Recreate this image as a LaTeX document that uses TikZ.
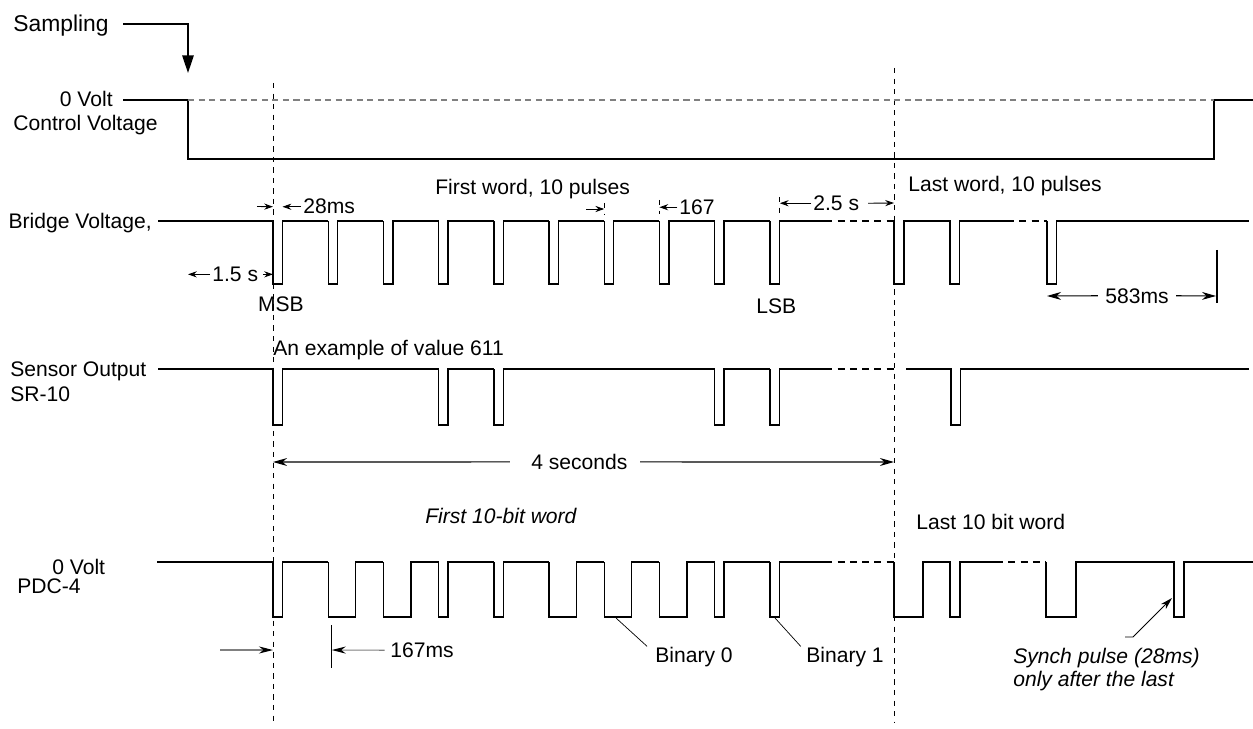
\documentclass[tikz,border=0pt]{standalone}
\usepackage{fontspec}
\setmainfont{Liberation Sans}
\usetikzlibrary{arrows.meta}

\tikzset{
  wave/.style={line width=0.8pt, line join=miter},
  dashwave/.style={line width=0.8pt, dash pattern=on 4pt off 3pt},
  guide/.style={line width=0.5pt, dash pattern=on 3pt off 3pt},
  dim/.style={line width=0.5pt, -{Stealth[length=5pt,width=3.5pt]}},
  bigdim/.style={line width=0.6pt, -{Stealth[length=8pt,width=4.5pt]}},
  graydim/.style={line width=0.6pt, gray, -{Stealth[length=8pt,width=4pt,color=black]}},
  txt/.style={inner sep=0pt, font=\fontsize{12}{14}\selectfont},
  itxt/.style={txt, font=\fontsize{12}{14}\selectfont\itshape},
}

\begin{document}
\begin{tikzpicture}[x=0.02cm, y=-0.02cm]
  \useasboundingbox (0,0) rectangle (1253,729);

  %%% guide lines
  \draw[guide] (273,83) -- (273,722);
  \draw[guide] (894,68) -- (894,722);

  %%% sampling and control voltage
  \node[txt, anchor=base west, font=\fontsize{13}{15}\selectfont] (samp) at (13,31.5) {Sampling};
  \coordinate (s0) at (123,24);
  \coordinate (samptip) at (188,73);
  \draw[wave, -{Triangle[length=10pt,width=6.5pt]}] (s0) -| (samptip);
  \node[txt, anchor=base east] (cv0) at (113,107) {0 Volt};
  \node[txt, anchor=base west] (cvl) at (13,131) {Control Voltage};
  \draw[wave] (123,100) -- (188,100) -- (188,159) -- (1214,159) -- (1214,100) -- (1253,100);
  \draw[gray, line width=0.6pt, dash pattern=on 3.5pt off 2.5pt] (188,100) -- (1214,100);

  %%% bridge voltage
  \node[txt, anchor=base east] (bvl) at (152,229) {Bridge Voltage,};
  \coordinate (msbL) at (273,221);
  \coordinate (msbR) at (282.5,221);
  \draw[wave] (158,221) -- (msbL);
  \foreach \i in {0,...,9}
    \draw[wave] ({273+55.2*\i},221) -- ++(0,63) -- ++(9.5,0) -- ++(0,-63) -- ({273+55.2*(\i+1)},221);
  \draw[dashwave] (825.2,221) -- (894,221);
  \draw[wave] (894,221) -- (894,284) -- (904,284) -- (904,221) -- (950,221) -- (950,284) -- (959.5,284) -- (959.5,221) -- (1007,221);
  \draw[dashwave] (1007,221) -- (1047,221);
  \draw[wave] (1047,221) -- (1047,284) -- (1056.5,284) -- (1056.5,221) -- (1249,221);

  \node[txt, anchor=base west] (fw) at (435,195) {First word, 10 pulses};
  \node[txt, anchor=base west] (lw) at (908,192) {Last word, 10 pulses};
  \node[txt, anchor=base west] (t28) at (303,214) {28ms};
  \draw[dim] (257,206.5) -- (msbL |- t28.west);
  \draw[dim] ([xshift=-1pt]t28.west) -- (msbR |- t28.west);
  \node[txt, anchor=base west] (t15) at (212,281.5) {1.5 s};
  \draw[dim] ([xshift=-1pt]t15.west) -- (samptip |- t15.west);
  \draw[dim] ([xshift=2.5pt]t15.east) -- (msbL |- t15.east);
  \node[txt, anchor=base west] (msb) at (257.7,312) {MSB};
  \node[txt, anchor=base west] (lsb) at (756,314) {LSB};
  \coordinate (p6) at (604.2,209);
  \draw[dim] (586,209) -- (p6);
  \draw[guide] (604.2,203) -- (604.2,214);
  \node[txt, anchor=base west] (t167) at (679,214.5) {167};
  \coordinate (p7) at (659.4,207);
  \draw[guide] (659.4,200) -- (659.4,214);
  \draw[dim] ([xshift=-1pt]t167.west) -- (p7 |- t167.west);
  \node[txt, anchor=base west] (t25) at (813,210.5) {2.5 s};
  \coordinate (p9) at (779.8,203);
  \draw[guide] (779.8,197) -- (779.8,214);
  \draw[dim] ([xshift=-1pt]t25.west) -- (p9 |- t25.west);
  \draw[dim] ([xshift=5pt]t25.east) -- (894,203);
  \node[txt, anchor=base west] (t583) at (1105,303) {583ms};
  \draw[line width=0.6pt] (1217,250) -- (1217,303);
  \draw[bigdim] ([xshift=-4pt]t583.west) -- (1047,296);
  \draw[bigdim] ([xshift=4pt]t583.east) -- (1216,296);

  %%% sensor output
  \node[txt, anchor=base west] (sol) at (10,376) {Sensor Output};
  \node[txt, anchor=base west] (srl) at (10,401) {SR-10};
  \draw[wave] (158,369) -- (273,369);
  \foreach \i/\j in {0/3,3/4,4/8,8/9,9/10}
    \draw[wave] ({273+55.2*\i},369) -- ++(0,56) -- ++(9.5,0) -- ++(0,-56) -- ({273+55.2*\j},369);
  \draw[dashwave] (825.2,369) -- (894,369);
  \draw[wave] (906,369) -- (951,369) -- (951,425) -- (960.5,425) -- (960.5,369) -- (1249,369);
  \node[txt, anchor=base west] (ex) at (273,355) {An example of value 611};

  %%% 4 seconds
  \node[txt, anchor=base west] (t4) at (531,469.5) {4 seconds};
  \draw[bigdim] ([xshift=-12pt]t4.west) -- (273,462);
  \draw[bigdim] ([xshift=7pt]t4.east) -- (894,462);
  \node[itxt, anchor=base west] (fbw) at (425,523) {First 10-bit word};
  \node[txt, anchor=base west] (lbw) at (916,529) {Last 10 bit word};

  %%% PDC-4
  \node[txt, anchor=base west] (pv) at (52,574) {0 Volt};
  \node[txt, anchor=base west] (pdc) at (17,593) {PDC-4};
  \draw[wave] (157,562) -- (273,562);
  \foreach \i/\w in {0/9.5,1/27.5,2/27.5,3/9.5,4/9.5,5/27.5,6/27.5,7/27.5,8/9.5,9/9.5}
    \draw[wave] ({273+55.2*\i},562) -- ++(0,55) -- ++(\w,0) -- ++(0,-55) -- ({273+55.2*(\i+1)},562);
  \draw[dashwave] (825.2,562) -- (894,562);
  \draw[wave] (894,562) -- (894,617) -- (923,617) -- (923,562) -- (950,562) -- (950,617) -- (960,617) -- (960,562) -- (996,562);
  \draw[dashwave] (996,562) -- (1046,562);
  \draw[wave] (1046,562) -- (1046,617) -- (1076,617) -- (1076,562) -- (1174,562) -- (1174,617) -- (1184,617) -- (1184,562) -- (1253,562);

  \node[txt, anchor=base west] (t167ms) at (390,657.5) {167ms};
  \draw[line width=0.6pt] (331.7,625) -- (331.7,668);
  \draw[graydim] ([xshift=-3pt]t167ms.west) -- (331.7,650);
  \draw[graydim] (220,650) -- (273,650);

  \node[txt, anchor=base west] (b0) at (655,662) {Binary 0};
  \node[txt, anchor=base west] (b1) at (806,662) {Binary 1};
  \draw[line width=0.4pt] (616,618) -- ([xshift=-4.5pt]b0.north west);
  \draw[line width=0.4pt] (775,618) -- ([xshift=-3pt]b1.north west);

  \node[itxt, anchor=base west] (syn) at (1013,663) {Synch pulse (28ms)};
  \node[itxt, anchor=base west] (syn2) at (1013,686) {only after the last};
  \coordinate (sy0) at (1125,637);
  \draw[line width=0.5pt, -{Stealth[length=7pt,width=4pt]}] (sy0) -- ++(8,0) -- (1172,598);
\end{tikzpicture}
\end{document}
